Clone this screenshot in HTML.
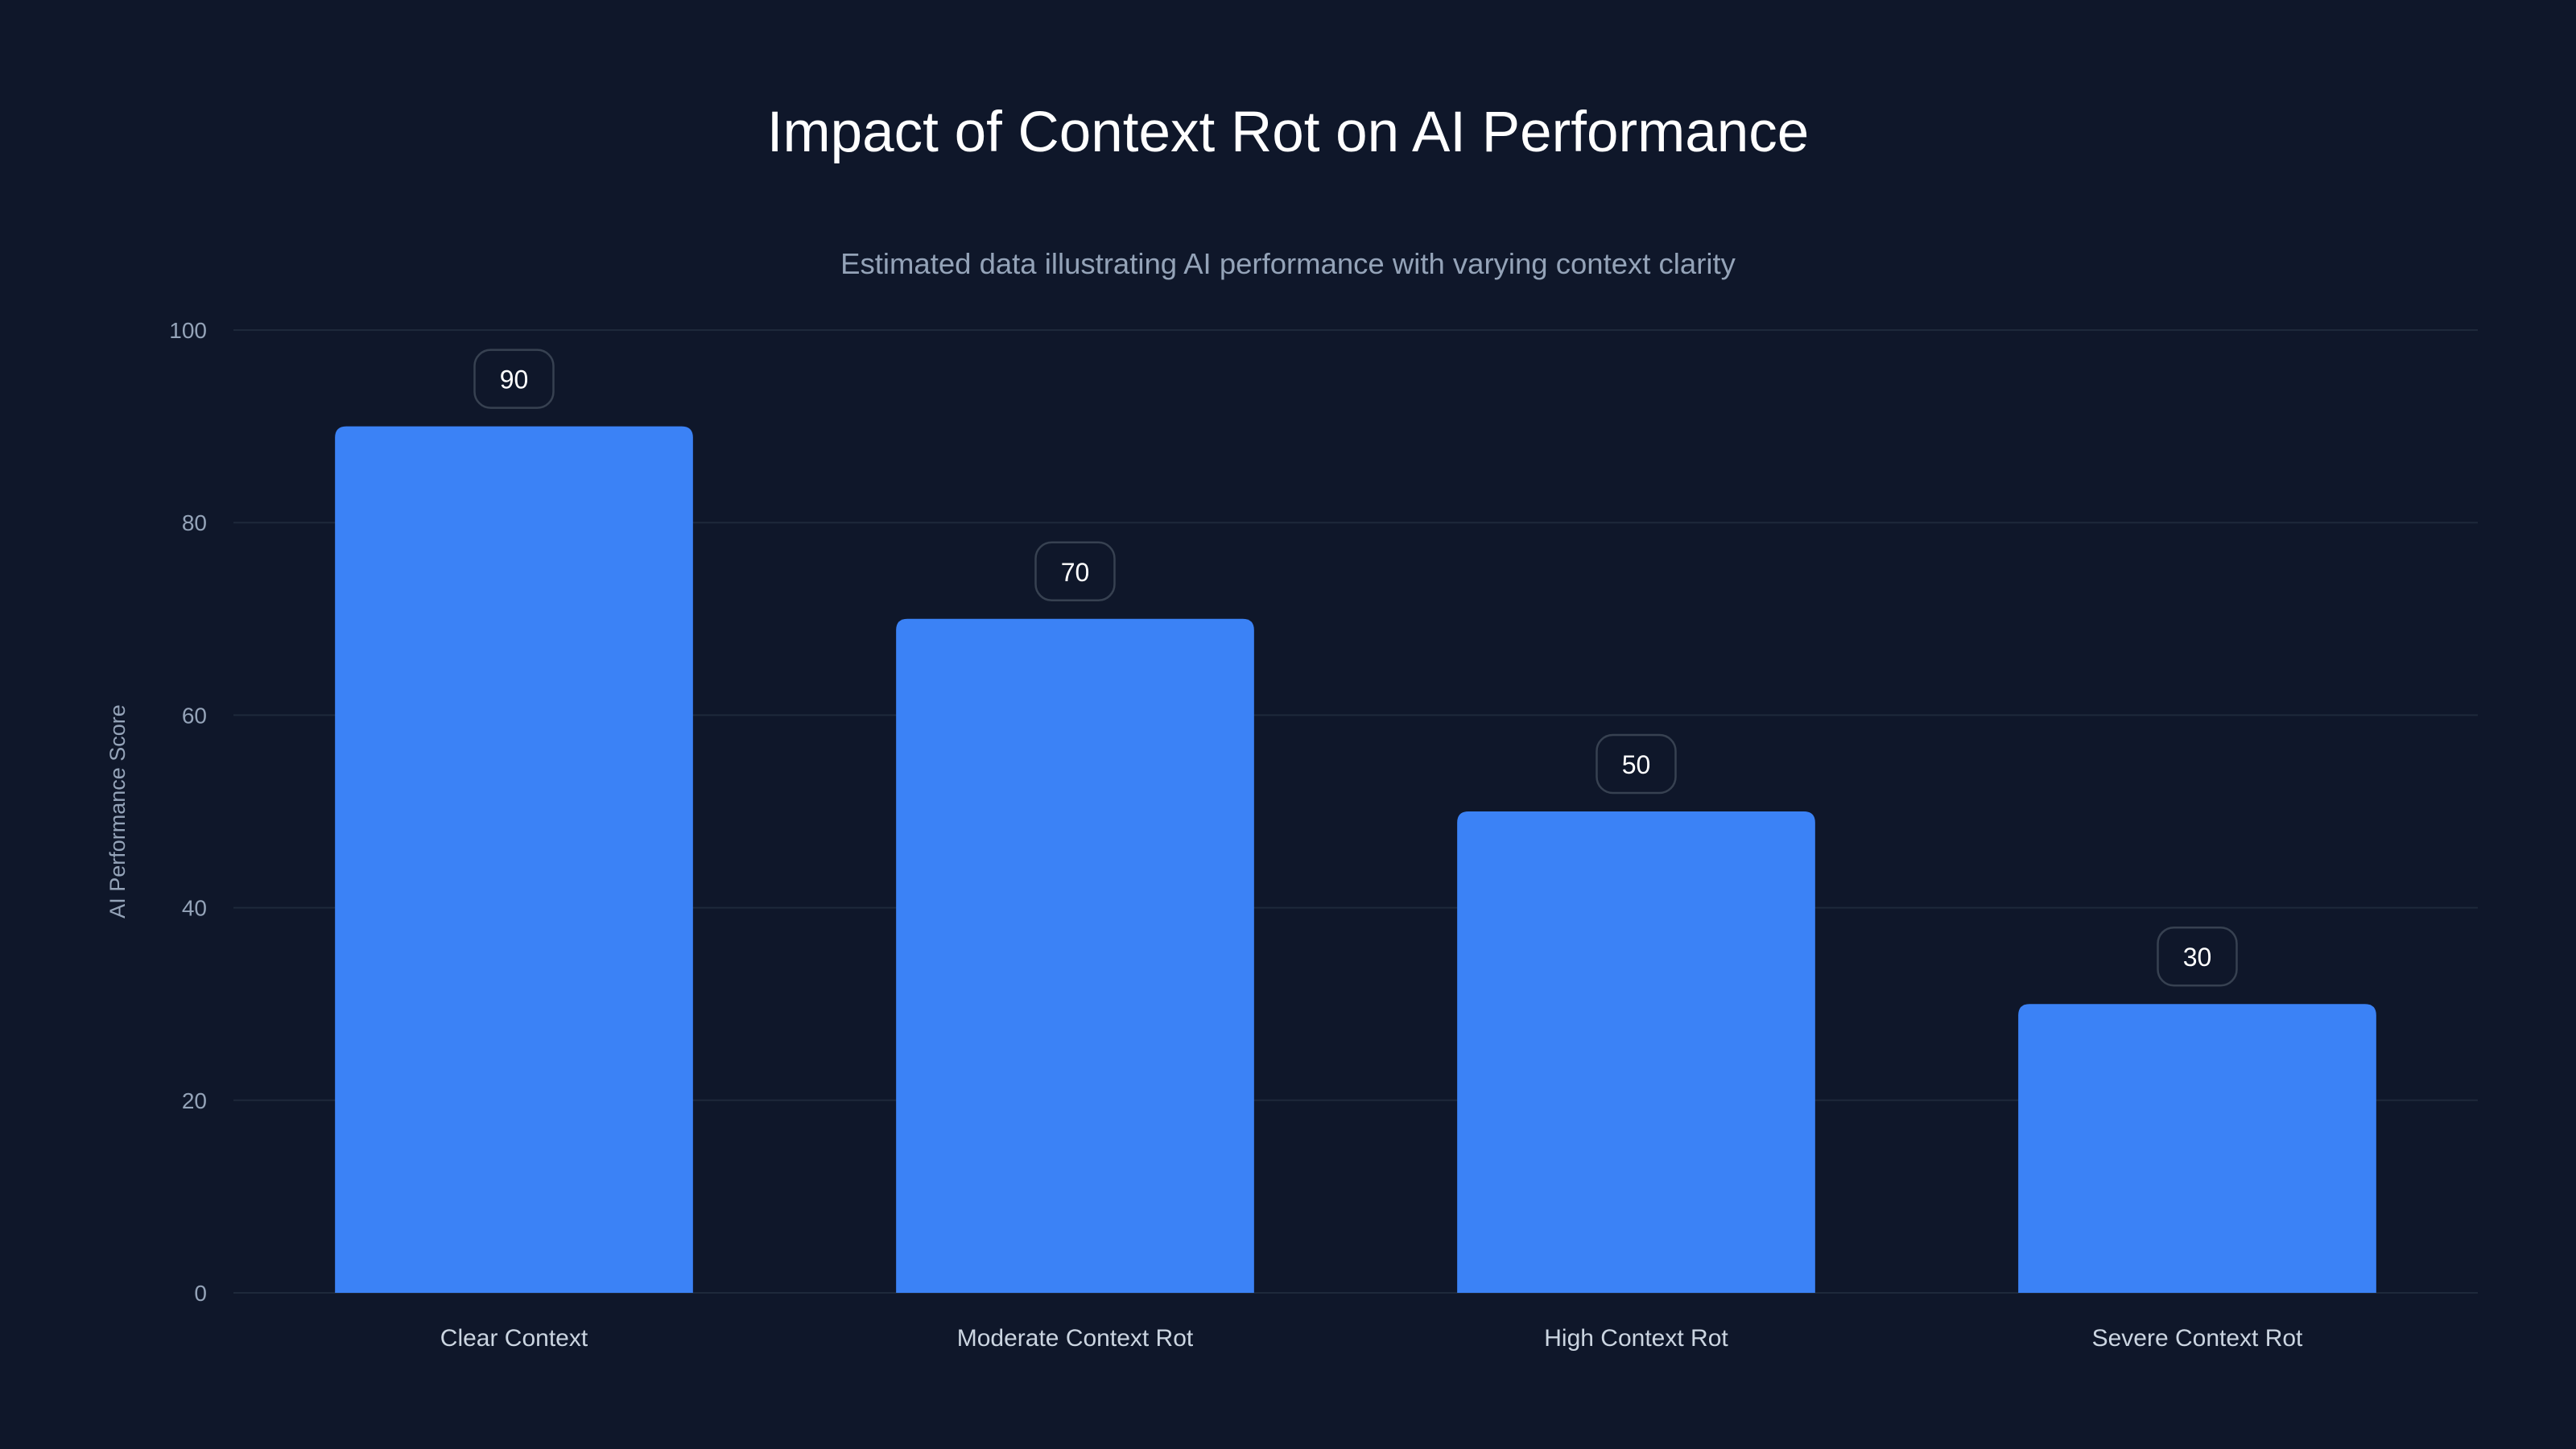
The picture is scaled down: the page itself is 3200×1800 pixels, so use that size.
<!DOCTYPE html>
<html><head><meta charset="utf-8"><style>
body{margin:0;background:#0f172a;}
svg{display:block;font-family:"Liberation Sans",sans-serif;}
</style></head><body>
<svg id="chart" width="3200" height="1800" viewBox="0 0 3200 1800">
<rect width="3200" height="1800" fill="#0f172a"/>
<text x="1600" y="188" text-anchor="middle" font-size="71" fill="#ffffff">Impact of Context Rot on AI Performance</text>
<text x="1600" y="340" text-anchor="middle" font-size="36.5" fill="#94a3b8">Estimated data illustrating AI performance with varying context clarity</text>
<text transform="translate(155,1008) rotate(-90)" text-anchor="middle" font-size="27" fill="#94a3b8">AI Performance Score</text>
<g id="grid"></g><g id="bars"></g>
</svg>
<script>
const categories=["Clear Context","Moderate Context Rot","High Context Rot","Severe Context Rot"];
const values=[90,70,50,30];
const yTicks=[0,20,40,60,80,100];
const NS="http://www.w3.org/2000/svg";
const x0=290,x1=3078,yTop=410,yBot=1606;
const yScale=v=>yBot-(v/100)*(yBot-yTop);
const band=(x1-x0)/categories.length;
const xCenter=i=>x0+band*(i+0.5);
function mk(tag,attrs,parent){const e=document.createElementNS(NS,tag);for(const k in attrs)e.setAttribute(k,attrs[k]);parent.appendChild(e);return e;}
const grid=document.getElementById('grid'),bars=document.getElementById('bars');
yTicks.forEach(t=>{
  const l=mk('line',{x1:x0,x2:x1,y1:yScale(t),y2:yScale(t),stroke:'#1e293b','stroke-width':2},grid);
  
  
  const tx=mk('text',{x:257,y:yScale(t)+10,'text-anchor':'end','font-size':28,fill:'#94a3b8'},grid);
  tx.textContent=t;
  
  
});
const bw=band*0.638,r=14;
categories.forEach((c,i)=>{
  const cx=xCenter(i),top=yScale(values[i]),L=cx-bw/2,R=cx+bw/2;
  const p=mk('path',{d:`M${L},${yBot}V${top+r}Q${L},${top} ${L+r},${top}H${R-r}Q${R},${top} ${R},${top+r}V${yBot}Z`,fill:'#3b82f6'},bars);
  
  
  const b=mk('rect',{x:cx-49,y:top-95,width:98,height:72,rx:20,fill:'#0f172a',stroke:'#374151','stroke-width':2.5},bars);
  
  
  const vt=mk('text',{x:cx,y:top-47,'text-anchor':'middle','font-size':32,fill:'#ffffff'},bars);
  vt.textContent=values[i];
  
  
  const ct=mk('text',{x:cx,y:1672,'text-anchor':'middle','font-size':30,fill:'#cbd5e1'},bars);
  ct.textContent=c;
  
  
});
</script>
</body></html>
